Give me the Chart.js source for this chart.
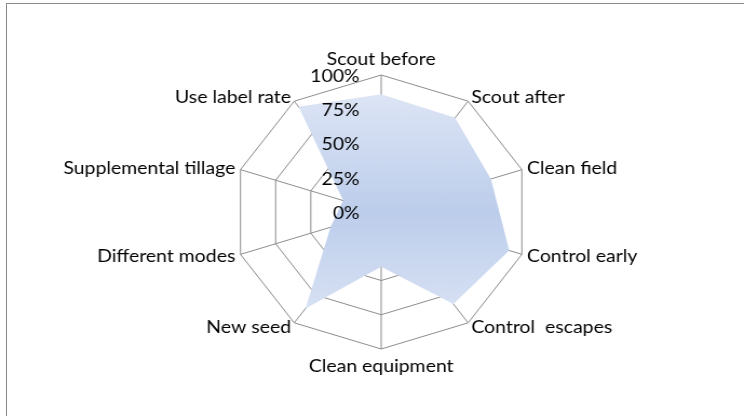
<!DOCTYPE html>
<html lang="en">
  <head>
    <meta charset="UTF-8" />
    <title>Weed management practices</title>
    <script src="https://cdn.jsdelivr.net/npm/chart.js"></script>
    <style>
      body { margin: 0; background: #fff; overflow: hidden; }
      #frame {
        position: absolute; left: 6px; top: 3px; width: 800px; height: 500px;
        border-left: 1px solid #8a8a8a; border-top: 1px solid #8a8a8a;
      }
      #wrap {
        position: absolute; left: 0; top: 0; width: 689px; height: 416px;
        transform: scaleX(1.0798); transform-origin: 0 0;
      }
    </style>
  </head>
  <body>
    <div id="frame"></div>
    <div id="wrap"><canvas id="practiceChart"></canvas></div>
    <script>
      // practices around the radar, clockwise from the top
      var practices = [
        "Scout before", "Scout after", "Clean field", "Control early",
        "Control  escapes", "Clean equipment", "New seed", "Different modes",
        "Supplemental tillage", "Use label rate"
      ];
      // share of respondents (%)
      var adoption = [86, 85, 78, 91, 83, 40, 87, 36, 27, 95];
      var tickValues = [0, 25, 50, 75, 100];

      Chart.defaults.font.family = "Lato";
      Chart.defaults.color = "#000";

      var FONT = "18px Lato";

      // Excel-style labels: side labels centred on the spoke end,
      // percent labels to the left of the vertical spoke
      var radarText = {
        id: "radarText",
        afterDraw: function (chart) {
          var s = chart.scales.r;
          var ctx = chart.ctx;
          ctx.save();
          ctx.font = FONT;
          ctx.fillStyle = "#000";
          ctx.textBaseline = "middle";

          chart.data.labels.forEach(function (label, i) {
            var p = s.getPointPosition(i, s.drawingArea + 5);
            var deg = Math.round((i * 360) / chart.data.labels.length);
            var y = p.y;
            if (deg === 0) { ctx.textAlign = "center"; y -= 11; }
            else if (deg === 180) { ctx.textAlign = "center"; y += 12; }
            else if (deg < 180) ctx.textAlign = "left";
            else ctx.textAlign = "right";
            ctx.fillText(label, p.x, y);
          });

          ctx.textAlign = "right";
          tickValues.forEach(function (v) {
            var y = s.yCenter - s.getDistanceFromCenterForValue(v);
            ctx.fillText(v + "%", s.xCenter - 20, y + 1);
          });
          ctx.restore();
        },
      };

      function fillGradient(context) {
        var chart = context.chart;
        var s = chart.scales.r;
        if (!s || !chart.chartArea) return "#c9d7ef";
        var g = chart.ctx.createLinearGradient(0, s.yCenter - s.drawingArea, 0, s.yCenter + s.drawingArea);
        g.addColorStop(0, "#e2e9f7");
        g.addColorStop(0.5, "#bccdeb");
        g.addColorStop(1, "#e2e9f7");
        return g;
      }

      var ctx = document.getElementById("practiceChart").getContext("2d");
      var practiceChart = new Chart(ctx, {
        type: "radar",
        data: {
          labels: practices,
          datasets: [
            {
              label: "Adoption",
              data: adoption,
              backgroundColor: fillGradient,
              borderWidth: 0,
              pointRadius: 0,
              fill: true,
            },
          ],
        },
        options: {
          responsive: true,
          maintainAspectRatio: false,
          animation: false,
          layout: { padding: { top: 75, bottom: 67, left: 18, right: 0 } },
          plugins: { legend: { display: false }, tooltip: { enabled: false } },
          scales: {
            r: {
              z: 1,
              min: 0,
              max: 100,
              ticks: { stepSize: 25, display: false },
              grid: { color: "#8c8c8c", lineWidth: 1 },
              angleLines: { color: "#8c8c8c", lineWidth: 1 },
              pointLabels: { display: false },
            },
          },
        },
        plugins: [radarText],
      });
    </script>
  </body>
</html>
